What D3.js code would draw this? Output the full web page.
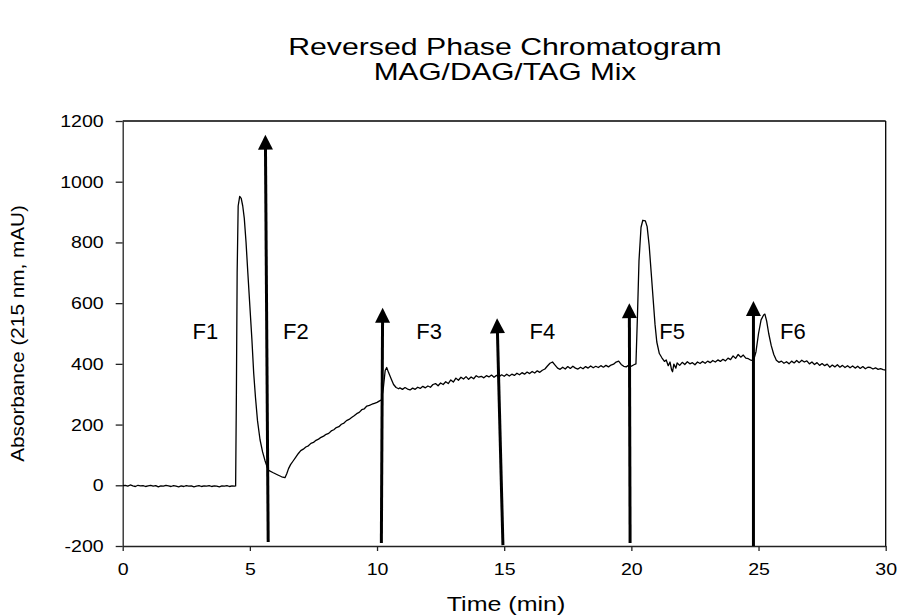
<!DOCTYPE html>
<html><head><meta charset="utf-8">
<script src="https://cdn.jsdelivr.net/npm/d3@7/dist/d3.min.js"></script>
<style>body{margin:0;background:#fff}svg{display:block}text{font-family:"Liberation Sans",Arial,sans-serif;fill:#000}</style>
</head><body>
<svg id="c" width="898" height="615"></svg>
<script>
const titleLines = ["Reversed Phase Chromatogram", "MAG/DAG/TAG Mix"];
const xLabel = "Time (min)";
const yLabel = "Absorbance (215 nm, mAU)";
const xTicks = [0, 5, 10, 15, 20, 25, 30];
const yTicks = [-200, 0, 200, 400, 600, 800, 1000, 1200];
// trace: [time (min), absorbance (mAU)]
const trace = [
[0.0,-1],[0.1,0],[0.2,-3],[0.3,1],[0.4,-2],[0.5,-4],[0.6,0],[0.7,-2],[0.8,-1],[0.9,-4],
[1.0,-2],[1.1,0],[1.2,-3],[1.3,-1],[1.4,-5],[1.5,-2],[1.6,-3],[1.7,0],[1.8,-2],[1.9,-4],
[2.0,-1],[2.1,-3],[2.2,-5],[2.3,-2],[2.4,-4],[2.5,-1],[2.6,-3],[2.7,-2],[2.8,-5],[2.9,-3],
[3.0,-1],[3.1,-4],[3.2,-2],[3.3,-3],[3.4,-1],[3.5,-4],[3.6,-2],[3.7,-3],[3.8,-5],[3.9,-2],
[4.0,-3],[4.1,-1],[4.2,-4],[4.3,-2],[4.4,-3],[4.44,-2],
[4.47,300],[4.50,700],[4.54,920],[4.60,952],[4.66,945],[4.72,920],[4.78,880],[4.85,800],
[4.92,700],[5.0,590],[5.08,480],[5.15,370],[5.22,290],[5.3,213],[5.4,150],[5.5,110],
[5.6,80],[5.72,50],[5.9,42],[6.1,34],[6.25,28],[6.38,25],
[6.45,38],[6.52,55],[6.6,68],[6.7,80],[6.8,92],[6.9,104],[7.0,114],[7.1,119],[7.2,126],
[7.3,130],[7.4,138],[7.5,141],[7.6,148],[7.7,152],[7.8,158],[7.9,162],[8.0,168],[8.1,171],
[8.2,179],[8.3,183],[8.4,190],[8.5,193],[8.6,201],[8.7,205],[8.8,213],[8.9,217],[9.0,223],
[9.1,229],[9.2,236],[9.3,240],[9.4,249],[9.5,252],[9.6,261],[9.7,263],[9.8,267],[9.9,270],
[10.0,273],[10.1,278],[10.17,281],[10.25,322],[10.32,378],[10.38,388],[10.45,372],
[10.55,352],[10.65,332],[10.75,322],[10.85,318],
[10.9,321],[11.0,316],[11.1,322],[11.2,317],[11.3,314],[11.4,320],[11.5,316],[11.6,323],
[11.7,319],[11.8,326],[11.9,321],[12.0,327],[12.1,323],[12.2,332],[12.3,335],[12.4,328],
[12.5,337],[12.6,332],[12.7,341],[12.8,335],[12.9,347],[13.0,340],[13.1,353],[13.2,346],
[13.3,356],[13.4,350],[13.5,358],[13.6,349],[13.7,357],[13.8,351],[13.9,361],[14.0,356],
[14.1,359],[14.2,354],[14.3,361],[14.4,357],[14.5,363],[14.6,356],[14.7,362],[14.8,358],
[14.9,364],[15.0,359],[15.1,366],[15.2,360],[15.3,366],[15.4,362],[15.5,369],[15.6,364],
[15.7,371],[15.8,366],[15.9,373],[16.0,368],[16.1,375],[16.2,370],[16.3,377],[16.4,372],
[16.5,379],[16.6,383],[16.7,393],[16.8,402],[16.9,406],[17.0,396],[17.1,386],[17.2,382],
[17.3,389],[17.4,383],[17.5,391],[17.6,385],[17.7,392],[17.8,386],[17.9,383],[18.0,389],
[18.1,384],[18.2,391],[18.3,386],[18.4,393],[18.5,387],[18.6,392],[18.7,388],[18.8,394],
[18.9,389],[19.0,395],[19.1,390],[19.2,396],[19.3,399],[19.4,406],[19.5,409],[19.6,398],
[19.7,392],[19.8,390],[19.9,396],[20.0,392],[20.1,397],[20.18,400],
[20.24,560],[20.3,740],[20.38,850],[20.45,873],[20.55,871],[20.62,852],[20.7,790],
[20.78,700],[20.85,620],[20.93,530],[21.0,472],[21.1,434],[21.2,420],[21.3,408],
[21.37,413],[21.45,394],[21.52,406],[21.58,381],[21.62,374],[21.67,399],[21.75,386],
[21.8,403],[21.9,395],[22.0,405],[22.1,398],[22.2,407],[22.3,400],[22.4,404],[22.5,397],
[22.6,406],[22.7,401],[22.8,408],[22.9,402],[23.0,409],[23.1,404],[23.2,411],[23.3,406],
[23.4,413],[23.5,408],[23.6,415],[23.7,410],[23.8,419],[23.9,414],[24.0,426],[24.1,418],
[24.2,431],[24.3,422],[24.4,429],[24.5,419],[24.6,417],[24.7,412],[24.8,410],
[24.9,440],[25.0,500],[25.1,545],[25.2,561],[25.25,564],[25.32,541],[25.4,500],
[25.5,460],[25.6,431],[25.7,412],[25.8,405],[25.9,409],[26.0,402],[26.1,407],[26.2,400],
[26.3,409],[26.4,403],[26.5,411],[26.6,404],[26.7,412],[26.8,406],[26.9,410],[27.0,400],
[27.1,406],[27.2,398],[27.3,404],[27.4,395],[27.5,401],[27.6,394],[27.7,399],[27.8,389],
[27.9,396],[28.0,390],[28.1,397],[28.2,389],[28.3,395],[28.4,388],[28.5,394],[28.6,387],
[28.7,393],[28.8,386],[28.9,392],[29.0,385],[29.1,391],[29.2,384],[29.3,389],[29.4,388],
[29.5,383],[29.6,387],[29.7,382],[29.8,384],[29.9,381],[30.0,379]
];
// fraction-cut arrows: bottom (t0,a0) -> tip (t1,a1)
const arrows = [
{t0:5.72,a0:-187,t1:5.61,a1:1155},
{t0:10.17,a0:-190,t1:10.22,a1:585},
{t0:14.95,a0:-197,t1:14.72,a1:550},
{t0:19.95,a0:-190,t1:19.92,a1:600},
{t0:24.8,a0:-200,t1:24.8,a1:607}
];
const fractions = ["F1","F2","F3","F4","F5","F6"];
const fracT = [3.25, 6.81, 12.05, 16.5, 21.6, 26.35];
const fracA = 483;

const svg = d3.select("#c");
const x = d3.scaleLinear().domain([0,30]).range([122.7,885.7]);
const y = d3.scaleLinear().domain([-200,1200]).range([546,121]);

function stretch(sel, factor){
  sel.each(function(){
    const w = this.getComputedTextLength();
    d3.select(this).attr("textLength", w*factor).attr("lengthAdjust","spacingAndGlyphs");
  });
}

// frame top/right
svg.append("line").attr("x1",x(0)).attr("x2",x(30)).attr("y1",y(1200)).attr("y2",y(1200)).attr("stroke","#000").attr("stroke-width",1.3);
svg.append("line").attr("x1",x(30)).attr("x2",x(30)).attr("y1",y(1200)).attr("y2",y(-200)).attr("stroke","#000").attr("stroke-width",1.3);

const fmt = d => String(d);
const gx = svg.append("g").attr("transform",`translate(0,${y(-200)})`)
  .call(d3.axisBottom(x).tickValues(xTicks).tickFormat(fmt).tickSize(5).tickSizeOuter(0).tickPadding(12));
const gy = svg.append("g").attr("transform",`translate(${x(0)},0)`)
  .call(d3.axisLeft(y).tickValues(yTicks).tickFormat(fmt).tickSize(7).tickSizeOuter(0).tickPadding(12));
[gx,gy].forEach(g=>{
  g.select(".domain").attr("stroke","#222").attr("stroke-width",1.3);
  g.selectAll(".tick line").attr("stroke","#222").attr("stroke-width",1.3);
  g.selectAll(".tick text").attr("font-family","Liberation Sans, Arial, sans-serif").attr("font-size",17).attr("fill","#000");
});
stretch(gx.selectAll(".tick text"),1.15);
stretch(gy.selectAll(".tick text"),1.15);

// trace
svg.append("path").datum(trace)
  .attr("d", d3.line().x(d=>x(d[0])).y(d=>y(d[1])))
  .attr("fill","none").attr("stroke","#000").attr("stroke-width",1.3).attr("stroke-linejoin","round");

// arrows
const head = 15, half = 7.5;
arrows.forEach(a=>{
  const x0=x(a.t0), y0=y(a.a0), x1=x(a.t1), y1=y(a.a1);
  const L=Math.hypot(x1-x0,y1-y0), ux=(x1-x0)/L, uy=(y1-y0)/L;
  const bx=x1-ux*head, by=y1-uy*head;
  svg.append("line").attr("x1",x0).attr("y1",y0).attr("x2",bx+ux*2).attr("y2",by+uy*2)
    .attr("stroke","#000").attr("stroke-width",3);
  svg.append("path").attr("d",`M${x1},${y1}L${bx-uy*half},${by+ux*half}L${bx+uy*half},${by-ux*half}Z`).attr("fill","#000");
});

// fraction labels
svg.selectAll("text.frac").data(fractions).join("text").attr("class","frac")
  .attr("x",(d,i)=>x(fracT[i])).attr("y",y(fracA)).attr("text-anchor","middle")
  .attr("font-size",22).text(d=>d);

// titles
const t1 = svg.append("text").attr("x",505).attr("y",55).attr("text-anchor","middle").attr("font-size",24).text(titleLines[0]);
const t2 = svg.append("text").attr("x",505).attr("y",80).attr("text-anchor","middle").attr("font-size",24).text(titleLines[1]);
stretch(t1,1.26); stretch(t2,1.24);
const xl = svg.append("text").attr("x",506).attr("y",611).attr("text-anchor","middle").attr("font-size",20).text(xLabel);
stretch(xl,1.25);
const yl = svg.append("text").attr("transform",`translate(24,${(121+546)/2}) rotate(-90)`).attr("text-anchor","middle").attr("font-size",18).text(yLabel);
stretch(yl,1.15);
</script>
</body></html>
